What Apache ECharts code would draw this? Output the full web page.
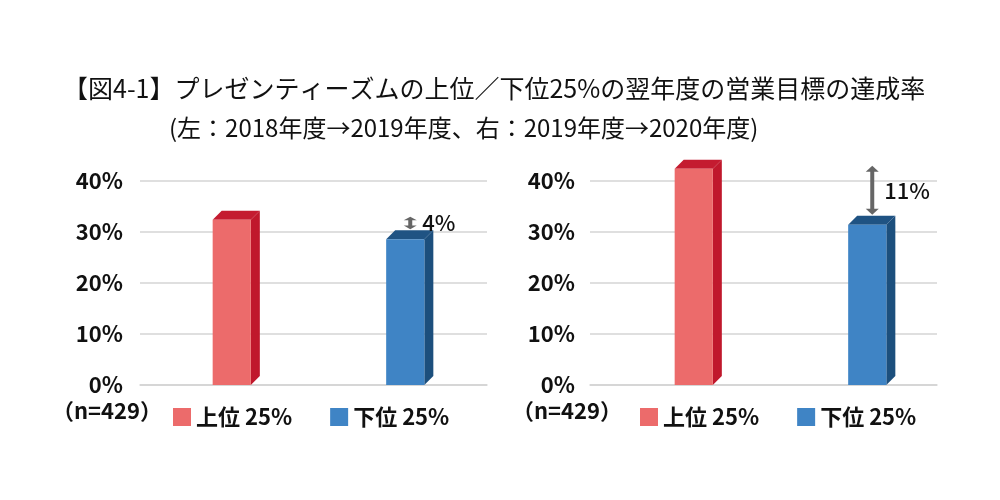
<!DOCTYPE html>
<html><head><meta charset="utf-8">
<script src="https://cdn.jsdelivr.net/npm/echarts@6/dist/echarts.min.js"></script>
<style>html,body{margin:0;padding:0;background:#fff}#c{width:1000px;height:500px}</style>
</head><body><div id="c"></div>
<script>
var titleLine1 = '【図4-1】プレゼンティーズムの上位／下位25%の翌年度の営業目標の達成率';
var titleLine2 = '(左：2018年度→2019年度、右：2019年度→2020年度)';
var categories = ['上位 25%', '下位 25%'];
var leftValues = [32.4, 28.6];   // 2018→2019
var rightValues = [42.4, 31.4];  // 2019→2020
var leftGapLabel = '4%';
var rightGapLabel = '11%';
var sampleLabel = '（n=429）';
var yTicks = [0, 10, 20, 30, 40];

var FONT = '"Noto Sans CJK JP", "Noto Sans", sans-serif';
var DEPTH = 9;
var colors = {
  '上位 25%': {front: '#EC6B6B', side: '#C0182C', top: '#C41B30'},
  '下位 25%': {front: '#3F84C5', side: '#1C4F7D', top: '#1F5383'}
};

function barRender(shift) {
  return function (params, api) {
    var cat = api.value(0), val = api.value(1);
    var p = api.coord([cat, val]);
    var b = api.coord([cat, 0]);
    var w = api.size([1, 0])[0] * 0.22;
    var cx = p[0] + shift;
    var x0 = cx - w / 2, x1 = cx + w / 2, yt = p[1], y0 = b[1];
    var c = colors[categories[cat]];
    return {
      type: 'group',
      children: [
        {type: 'polygon', shape: {points: [[x1, yt], [x1 + DEPTH, yt - DEPTH], [x1 + DEPTH, y0 - DEPTH], [x1, y0]]}, style: {fill: c.side}},
        {type: 'polygon', shape: {points: [[x0, yt], [x1, yt], [x1 + DEPTH, yt - DEPTH], [x0 + DEPTH, yt - DEPTH]]}, style: {fill: c.top}},
        {type: 'rect', shape: {x: x0, y: yt, width: w, height: y0 - yt}, style: {fill: c.front}}
      ]
    };
  };
}

function arrowRender(shift, label) {
  return function (params, api) {
    var cat = api.value(0);
    var lo = api.coord([cat, api.value(1)]);
    var hi = api.coord([cat, api.value(2)]);
    var x = lo[0] + shift + 5;
    var yTop = hi[1] - 3;
    var yBot = lo[1] - DEPTH - 1;
    var hh = Math.min(6, (yBot - yTop) / 3.5), hw = 6.5;
    return {
      type: 'group',
      children: [
        {type: 'rect', shape: {x: x - 2, y: yTop + hh - 1, width: 4, height: Math.max(0, yBot - yTop - 2 * hh + 2)}, style: {fill: '#666'}},
        {type: 'polygon', shape: {points: [[x, yTop], [x + hw, yTop + hh], [x - hw, yTop + hh]]}, style: {fill: '#666'}},
        {type: 'polygon', shape: {points: [[x, yBot], [x + hw, yBot - hh], [x - hw, yBot - hh]]}, style: {fill: '#666'}},
        {type: 'text', style: {text: label, x: x + 12, y: (yTop + yBot) / 2, textVerticalAlign: 'middle', fill: '#111', font: '500 22px ' + FONT}}
      ]
    };
  };
}

var grids = [
  {left: 140, right: 513, top: 181, bottom: 115},
  {left: 590, right: 63, top: 181, bottom: 115}
];
var shifts = [5, 17];

function yAxis(idx, margin) {
  return {
    type: 'value', gridIndex: idx, min: yTicks[0], max: yTicks[yTicks.length - 1], interval: 10,
    axisLine: {show: false}, axisTick: {show: false},
    axisLabel: {formatter: '{value}%', margin: margin, color: '#111', fontSize: 22, fontWeight: 'bold', fontFamily: FONT},
    splitLine: {lineStyle: {color: '#D4D4D4', width: 1.5}}
  };
}
function xAxis(idx) {
  return {
    type: 'category', gridIndex: idx, data: categories,
    axisLine: {lineStyle: {color: '#D4D4D4', width: 1.5}}, axisTick: {show: false}, axisLabel: {show: false}
  };
}

var series = [];
[[leftValues, 0], [rightValues, 1]].forEach(function (pair) {
  var vals = pair[0], g = pair[1];
  categories.forEach(function (name, i) {
    series.push({
      type: 'custom', name: name, xAxisIndex: g, yAxisIndex: g,
      itemStyle: {color: colors[name].front},
      renderItem: barRender(shifts[g]),
      data: [[i, vals[i]]]
    });
  });
  series.push({
    type: 'custom', name: 'gap' + g, xAxisIndex: g, yAxisIndex: g,
    renderItem: arrowRender(shifts[g], g === 0 ? leftGapLabel : rightGapLabel),
    data: [[1, vals[1], vals[0]]], z: 5
  });
});

function legend(left) {
  return {
    data: categories, left: left, top: 401, icon: 'rect', itemWidth: 18, itemHeight: 18, itemGap: 38,
    selectedMode: false,
    textStyle: {fontSize: 22, fontWeight: 'bold', color: '#111', fontFamily: FONT}
  };
}

var chart = echarts.init(document.getElementById('c'), null, {renderer: 'canvas'});
chart.setOption({
  backgroundColor: '#fff',
  animation: false,
  title: [
    {text: titleLine1, left: 58, top: 71, textStyle: {fontSize: 25, fontWeight: 'normal', color: '#111', fontFamily: FONT}},
    {text: titleLine2, left: 164, top: 111, textStyle: {fontSize: 24, fontWeight: 'normal', color: '#111', fontFamily: FONT}}
  ],
  graphic: [
    {type: 'text', left: 52, top: 400, style: {text: sampleLabel, font: 'bold 22px ' + FONT, fill: '#111'}},
    {type: 'text', left: 512, top: 400, style: {text: sampleLabel, font: 'bold 22px ' + FONT, fill: '#111'}}
  ],
  legend: [legend(168), legend(635)],
  grid: grids,
  xAxis: [xAxis(0), xAxis(1)],
  yAxis: [yAxis(0, 17), yAxis(1, 15)],
  series: series
});
</script></body></html>
